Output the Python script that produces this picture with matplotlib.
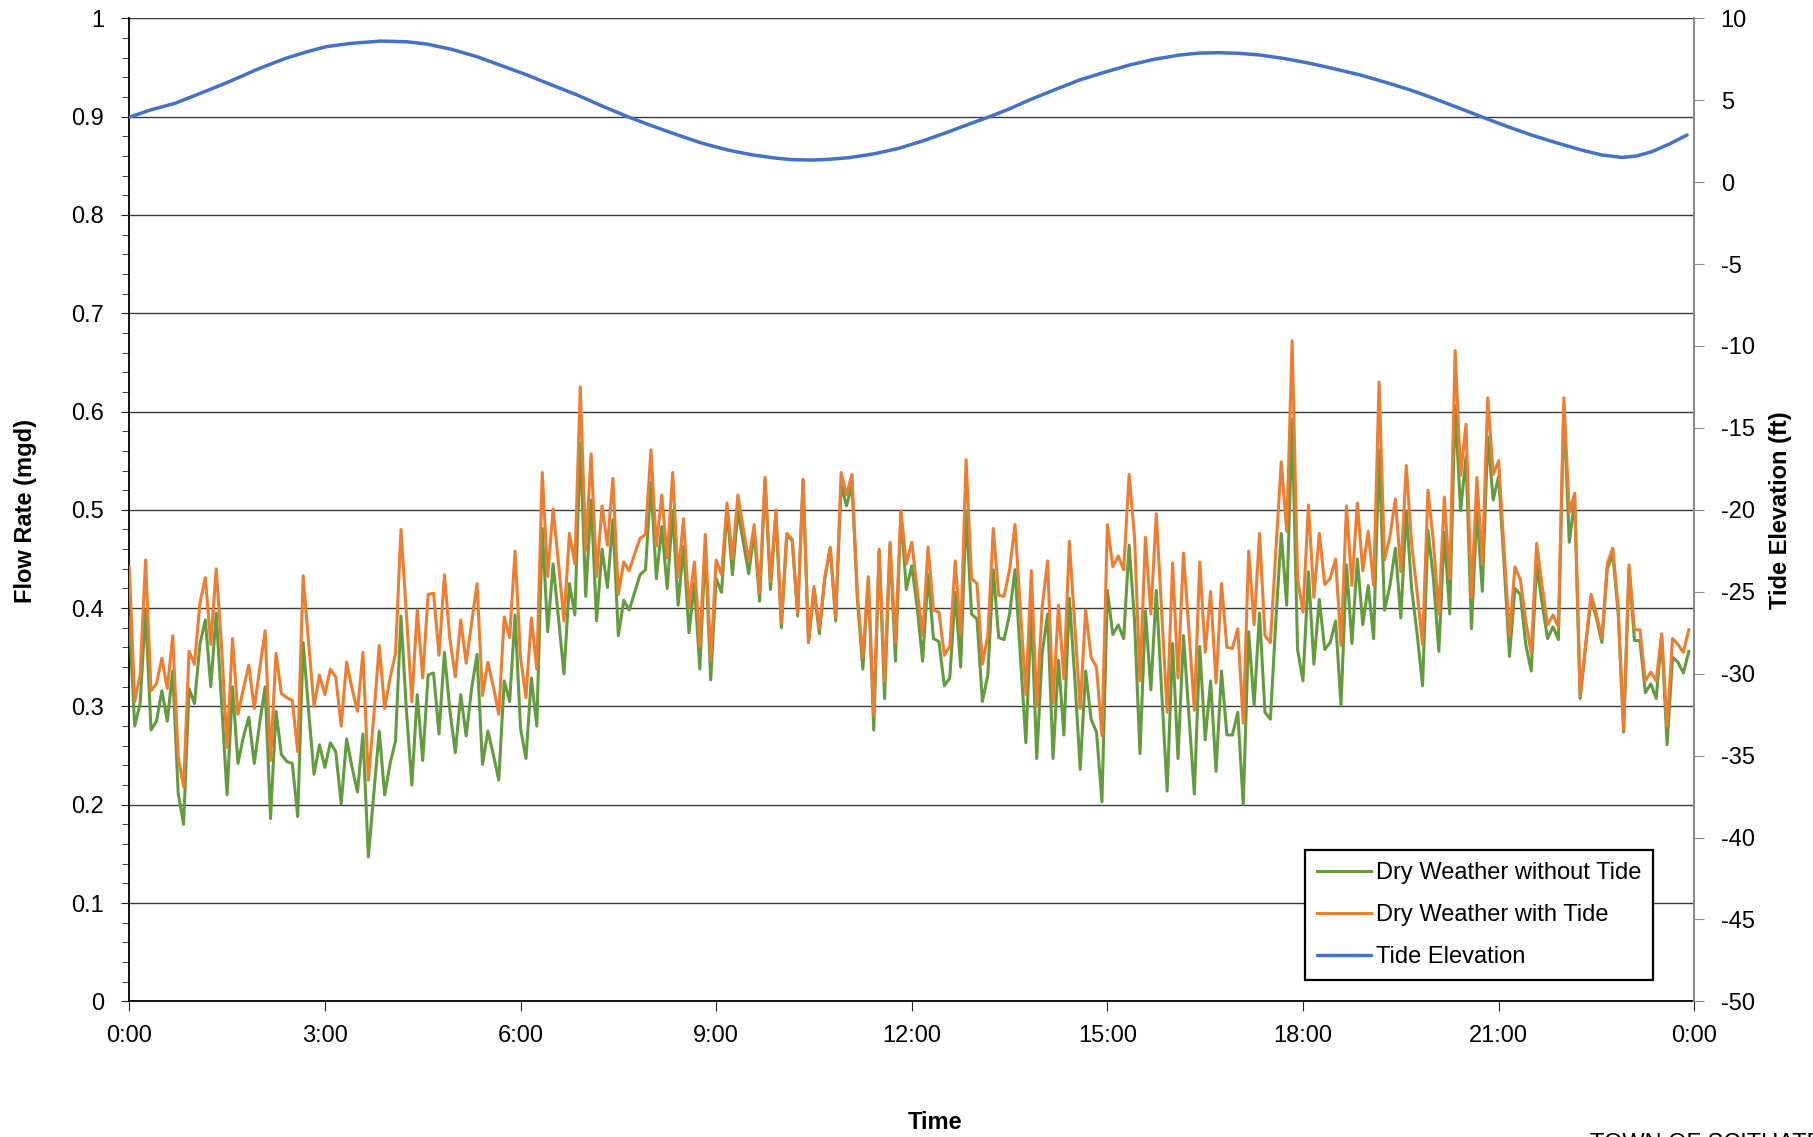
import matplotlib.pyplot as plt
import numpy as np

plt.rcParams['font.family'] = ['Liberation Sans', 'DejaVu Sans']
plt.rcParams['axes.unicode_minus'] = False

# ---------------------------------------------------
# 5-minute flow readings (mgd), 0:00 to 23:55

flow_no_tide = [
    0.390, 0.280, 0.303, 0.398, 0.276, 0.285, 0.316, 0.285, 0.336, 0.212, 0.180, 0.318,
    0.303, 0.363, 0.388, 0.320, 0.395, 0.303, 0.210, 0.320, 0.242, 0.269, 0.289, 0.242,
    0.283, 0.320, 0.186, 0.295, 0.251, 0.244, 0.242, 0.188, 0.365, 0.296, 0.231, 0.261,
    0.238, 0.263, 0.254, 0.201, 0.267, 0.238, 0.213, 0.272, 0.147, 0.211, 0.275, 0.210,
    0.242, 0.265, 0.392, 0.296, 0.220, 0.312, 0.245, 0.332, 0.334, 0.272, 0.355, 0.296,
    0.253, 0.312, 0.270, 0.318, 0.353, 0.241, 0.275, 0.251, 0.225, 0.326, 0.305, 0.393,
    0.278, 0.247, 0.329, 0.280, 0.481, 0.376, 0.445, 0.389, 0.333, 0.425, 0.393, 0.568,
    0.412, 0.510, 0.387, 0.460, 0.421, 0.490, 0.372, 0.408, 0.398, 0.416, 0.434, 0.439,
    0.528, 0.430, 0.483, 0.420, 0.499, 0.403, 0.463, 0.375, 0.425, 0.338, 0.463, 0.327,
    0.430, 0.416, 0.501, 0.434, 0.499, 0.467, 0.435, 0.477, 0.407, 0.530, 0.419, 0.496,
    0.380, 0.474, 0.469, 0.392, 0.530, 0.365, 0.419, 0.374, 0.430, 0.461, 0.387, 0.525,
    0.504, 0.525, 0.409, 0.338, 0.429, 0.276, 0.458, 0.308, 0.465, 0.346, 0.497, 0.419,
    0.443, 0.401, 0.346, 0.434, 0.369, 0.366, 0.321, 0.329, 0.416, 0.340, 0.499, 0.394,
    0.389, 0.305, 0.332, 0.439, 0.370, 0.368, 0.394, 0.439, 0.350, 0.263, 0.398, 0.247,
    0.354, 0.394, 0.247, 0.347, 0.271, 0.410, 0.329, 0.236, 0.336, 0.287, 0.274, 0.203,
    0.418, 0.373, 0.383, 0.369, 0.464, 0.387, 0.252, 0.397, 0.317, 0.418, 0.314, 0.214,
    0.364, 0.247, 0.372, 0.292, 0.211, 0.361, 0.266, 0.326, 0.234, 0.336, 0.271, 0.271,
    0.294, 0.200, 0.376, 0.301, 0.395, 0.294, 0.287, 0.387, 0.476, 0.403, 0.592, 0.358,
    0.326, 0.437, 0.343, 0.409, 0.358, 0.365, 0.387, 0.301, 0.444, 0.364, 0.450, 0.383,
    0.423, 0.369, 0.561, 0.398, 0.423, 0.461, 0.390, 0.499, 0.419, 0.374, 0.321, 0.479,
    0.430, 0.356, 0.477, 0.394, 0.606, 0.499, 0.554, 0.379, 0.500, 0.417, 0.574, 0.510,
    0.534, 0.445, 0.351, 0.420, 0.414, 0.363, 0.336, 0.445, 0.405, 0.369, 0.381, 0.368,
    0.605, 0.467, 0.510, 0.308, 0.360, 0.410, 0.390, 0.365, 0.440, 0.455, 0.395, 0.274,
    0.440, 0.367, 0.367, 0.314, 0.323, 0.308, 0.372, 0.261, 0.350, 0.345, 0.334, 0.356,
]

flow_with_tide = [
    0.442, 0.305, 0.332, 0.449, 0.316, 0.323, 0.349, 0.318, 0.372, 0.249, 0.218, 0.356,
    0.343, 0.405, 0.431, 0.363, 0.440, 0.360, 0.258, 0.369, 0.292, 0.318, 0.342, 0.298,
    0.338, 0.377, 0.245, 0.354, 0.313, 0.309, 0.306, 0.254, 0.433, 0.365, 0.300, 0.332,
    0.312, 0.338, 0.330, 0.280, 0.345, 0.318, 0.295, 0.355, 0.225, 0.290, 0.362, 0.298,
    0.329, 0.354, 0.480, 0.394, 0.305, 0.398, 0.329, 0.414, 0.415, 0.352, 0.434, 0.369,
    0.330, 0.388, 0.344, 0.385, 0.425, 0.311, 0.345, 0.320, 0.292, 0.391, 0.370, 0.458,
    0.350, 0.309, 0.390, 0.338, 0.538, 0.432, 0.501, 0.445, 0.387, 0.476, 0.445, 0.625,
    0.459, 0.557, 0.432, 0.504, 0.464, 0.532, 0.414, 0.447, 0.438, 0.455, 0.471, 0.475,
    0.561, 0.463, 0.515, 0.451, 0.538, 0.432, 0.491, 0.401, 0.447, 0.361, 0.475, 0.347,
    0.449, 0.434, 0.507, 0.450, 0.515, 0.481, 0.448, 0.485, 0.416, 0.533, 0.427, 0.500,
    0.385, 0.476, 0.470, 0.395, 0.531, 0.365, 0.422, 0.379, 0.432, 0.462, 0.391, 0.538,
    0.515, 0.536, 0.412, 0.350, 0.432, 0.291, 0.460, 0.325, 0.467, 0.365, 0.499, 0.445,
    0.467, 0.419, 0.372, 0.462, 0.398, 0.396, 0.352, 0.361, 0.448, 0.373, 0.551, 0.430,
    0.425, 0.343, 0.372, 0.481, 0.413, 0.412, 0.439, 0.485, 0.398, 0.312, 0.438, 0.300,
    0.401, 0.448, 0.303, 0.403, 0.328, 0.468, 0.383, 0.298, 0.398, 0.350, 0.340, 0.270,
    0.485, 0.442, 0.453, 0.439, 0.536, 0.472, 0.326, 0.472, 0.394, 0.496, 0.394, 0.294,
    0.446, 0.329, 0.456, 0.378, 0.296, 0.447, 0.355, 0.417, 0.324, 0.425, 0.360, 0.359,
    0.379, 0.283, 0.458, 0.383, 0.476, 0.372, 0.365, 0.458, 0.549, 0.478, 0.672, 0.430,
    0.396, 0.505, 0.411, 0.476, 0.424, 0.430, 0.450, 0.362, 0.504, 0.423, 0.507, 0.438,
    0.478, 0.423, 0.630, 0.449, 0.473, 0.511, 0.437, 0.545, 0.465, 0.416, 0.363, 0.520,
    0.467, 0.394, 0.513, 0.430, 0.662, 0.535, 0.587, 0.411, 0.533, 0.445, 0.614, 0.536,
    0.550, 0.459, 0.372, 0.442, 0.429, 0.387, 0.354, 0.466, 0.423, 0.383, 0.393, 0.381,
    0.614, 0.497, 0.517, 0.311, 0.363, 0.414, 0.394, 0.369, 0.445, 0.461, 0.401, 0.276,
    0.444, 0.378, 0.378, 0.326, 0.335, 0.326, 0.374, 0.280, 0.369, 0.363, 0.355, 0.378,
]

# tide gauge readings (hours after midnight, ft)
tide_hours = [0.00, 0.32, 0.70, 1.09, 1.47, 1.71, 1.94, 2.17, 2.40, 2.71, 3.02, 3.40,
              3.86, 4.25, 4.56, 4.94, 5.33, 5.71, 6.10, 6.48, 6.87, 7.25, 7.64, 8.02,
              8.41, 8.79, 9.18, 9.56, 9.95, 10.18, 10.49, 10.72, 11.03, 11.41, 11.80,
              12.18, 12.57, 12.87, 13.21, 13.49, 13.80, 14.18, 14.57, 14.95, 15.34,
              15.72, 16.11, 16.42, 16.72, 17.03, 17.34, 17.72, 18.11, 18.49, 18.88,
              19.27, 19.65, 19.96, 20.27, 20.50, 20.73, 21.11, 21.50, 21.88, 22.27,
              22.58, 22.89, 23.11, 23.35, 23.62, 23.89]
tide_ft = [3.96, 4.40, 4.81, 5.42, 6.03, 6.44, 6.85, 7.21, 7.56, 7.94, 8.27, 8.47,
           8.61, 8.57, 8.43, 8.11, 7.66, 7.11, 6.54, 5.93, 5.32, 4.65, 4.00, 3.43,
           2.88, 2.37, 1.96, 1.66, 1.45, 1.37, 1.35, 1.39, 1.49, 1.72, 2.06,
           2.53, 3.08, 3.53, 4.02, 4.46, 5.01, 5.62, 6.23, 6.70, 7.15,
           7.50, 7.76, 7.88, 7.90, 7.86, 7.76, 7.54, 7.25, 6.91, 6.54,
           6.09, 5.62, 5.18, 4.71, 4.36, 4.00, 3.43, 2.88, 2.41, 1.96,
           1.66, 1.51, 1.59, 1.86, 2.33, 2.88]

time_labels = ['0:00', '3:00', '6:00', '9:00', '12:00', '15:00', '18:00', '21:00', '0:00']

# ---------------------------------------------------

hours = np.arange(len(flow_no_tide)) / 12.0

fig = plt.figure(figsize=(18.13, 11.37), dpi=100)
ax = fig.add_axes([0.0713, 0.1193, 0.8632, 0.8646])
ax2 = ax.twinx()

green = '#639B3E'
orange = '#ED7D31'
blue = '#4472C4'

l1, = ax.plot(hours, flow_no_tide, color=green, lw=2.2, label='Dry Weather without Tide', zorder=3)
l2, = ax.plot(hours, flow_with_tide, color=orange, lw=2.2, label='Dry Weather with Tide', zorder=4)
l3, = ax2.plot(tide_hours, tide_ft, color=blue, lw=2.5, label='Tide Elevation',
               solid_joinstyle='round', solid_capstyle='round')

ax.set_xlim(0, 24)
ax.set_ylim(0, 1)
ax2.set_ylim(-50, 10)

ax.set_xticks(np.arange(0, 25, 3))
ax.set_xticklabels(time_labels)
ax.set_yticks(np.arange(0, 1.01, 0.1))
ax.set_yticklabels(['0', '0.1', '0.2', '0.3', '0.4', '0.5', '0.6', '0.7', '0.8', '0.9', '1'])
ax.set_yticks(np.arange(0, 1.001, 0.02), minor=True)
ax2.set_yticks(np.arange(-50, 11, 5))

ax.grid(axis='y', which='major', color='#3a3a3a', lw=1.0)
ax.set_axisbelow(True)

ax.tick_params(axis='both', which='both', direction='out', labelsize=17, color='#222222')
ax.tick_params(axis='y', which='major', length=6, pad=12)
ax.tick_params(axis='y', which='minor', length=5)
ax.tick_params(axis='x', length=7, pad=10)
ax2.tick_params(axis='y', direction='out', length=7, pad=12, labelsize=17, color='#8c8c8c')

for side in ['top', 'right']:
    ax.spines[side].set_visible(False)
ax2.spines['top'].set_visible(False)
ax2.spines['left'].set_visible(False)
ax2.spines['bottom'].set_visible(False)
ax2.spines['right'].set_color('#8c8c8c')
ax2.spines['right'].set_linewidth(1.5)
ax.spines['left'].set_linewidth(1.3)
ax.spines['bottom'].set_linewidth(1.3)

fig.text(0.014, 0.551, 'Flow Rate (mgd)', rotation=90, ha='center', va='center',
         fontsize=17, fontweight='bold')
fig.text(0.982, 0.551, 'Tide Elevation (ft)', rotation=90, ha='center', va='center',
         fontsize=17, fontweight='bold')
fig.text(0.516, 0.013, 'Time', ha='center', va='center', fontsize=17, fontweight='bold')
fig.text(0.877, 0.0035, 'TOWN OF SCITUATE', ha='left', va='top', fontsize=17)

leg = ax2.legend(handles=[l1, l2, l3], loc='lower right', bbox_to_anchor=(0.9736, 0.0217),
                 fontsize=17, frameon=True, fancybox=False, handlelength=2.3,
                 handletextpad=0.2, labelspacing=0.85, borderpad=0.5, borderaxespad=0)
leg.get_frame().set_edgecolor('black')
leg.get_frame().set_linewidth(1.6)
leg.get_frame().set_alpha(1)

fig.savefig('out.png', dpi=100)
